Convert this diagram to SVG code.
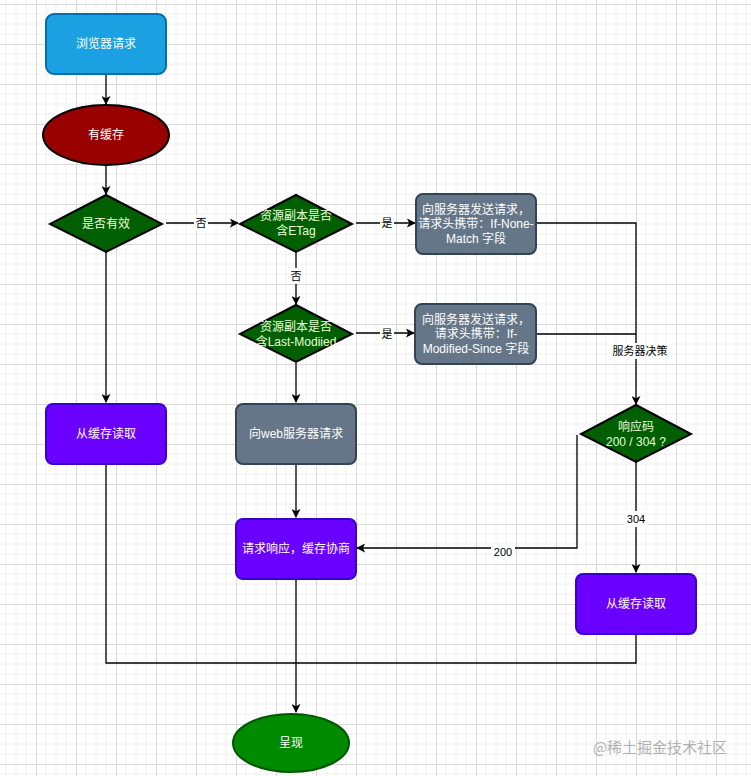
<svg xmlns="http://www.w3.org/2000/svg" width="751" height="776" viewBox="0 0 751 776">
<defs>
<pattern id="grid" x="36" y="4" width="40" height="40" patternUnits="userSpaceOnUse">
<path d="M10 0V40M20 0V40M30 0V40M0 10H40M0 20H40M0 30H40" stroke="#f0f0f0" stroke-width="1" fill="none"/>
<path d="M0.5 0V40M0 0.5H40" stroke="#dadada" stroke-width="1" fill="none"/>
</pattern>
<marker id="arr" viewBox="0 0 10 10" refX="9" refY="5" markerWidth="9" markerHeight="9" markerUnits="userSpaceOnUse" orient="auto">
<path d="M0 0L10 5L0 10L2.5 5Z" fill="#000"/>
</marker>
<style>
.t{font-family:"Liberation Sans","Noto Sans CJK SC",sans-serif;font-size:12px;text-anchor:middle;dominant-baseline:central}
.w{fill:#ffffff}
.g{fill:#e8ffd8}
.lbl{font-family:"Liberation Sans","Noto Sans CJK SC",sans-serif;font-size:11px;text-anchor:middle;dominant-baseline:central;fill:#000}
.bg{fill:#ffffff}
.c{fill:none;stroke:#000;stroke-width:1.3}
.blue{fill:#1ba1e2;stroke:#006eaf;stroke-width:2}
.red{fill:#990000;stroke:#000;stroke-width:2}
.dg{fill:#005f00;stroke:#000;stroke-width:2}
.gray{fill:#647687;stroke:#314354;stroke-width:2}
.pur{fill:#6a00ff;stroke:#3700cc;stroke-width:2}
.gr{fill:#008a00;stroke:#005700;stroke-width:2}
</style>
</defs>
<rect width="751" height="776" fill="#ffffff"/>
<rect width="751" height="776" fill="url(#grid)"/>

<g id="connectors">
<path class="c" d="M106 74V104" marker-end="url(#arr)"/>
<path class="c" d="M106 165V194" marker-end="url(#arr)"/>
<path class="c" d="M166 223H238" marker-end="url(#arr)"/>
<path class="c" d="M296 252V304" marker-end="url(#arr)"/>
<path class="c" d="M356 223H415" marker-end="url(#arr)"/>
<path class="c" d="M356 333H414" marker-end="url(#arr)"/>
<path class="c" d="M536 223H636V404" marker-end="url(#arr)"/>
<path class="c" d="M536 334H636"/>
<path class="c" d="M106 252V402" marker-end="url(#arr)"/>
<path class="c" d="M296 363V402" marker-end="url(#arr)"/>
<path class="c" d="M296 464V517" marker-end="url(#arr)"/>
<path class="c" d="M577 435V548H357" marker-end="url(#arr)"/>
<path class="c" d="M636 462V572" marker-end="url(#arr)"/>
<path class="c" d="M106 464V663H636V634"/>
<path class="c" d="M296 579V712" marker-end="url(#arr)"/>
<rect class="bg" x="194" y="215" width="14" height="16"/>
<text class="lbl" x="201" y="223">否</text>
<rect class="bg" x="289" y="268" width="14" height="16"/>
<text class="lbl" x="296" y="276">否</text>
<rect class="bg" x="380" y="215" width="14" height="16"/>
<text class="lbl" x="387" y="223">是</text>
<rect class="bg" x="380" y="325" width="14" height="16"/>
<text class="lbl" x="387" y="334">是</text>
<rect class="bg" x="608" y="343" width="64" height="16"/>
<text class="lbl" x="640" y="351">服务器决策</text>
<rect class="bg" x="491" y="544" width="24" height="16"/>
<text class="lbl" x="503" y="552">200</text>
<rect class="bg" x="624" y="511" width="24" height="16"/>
<text class="lbl" x="636" y="519">304</text>
</g>

<g id="n1"><rect class="blue" x="46" y="14" width="120" height="60" rx="8"/><text class="t w" x="106" y="44">浏览器请求</text></g>
<g id="n2"><ellipse class="red" cx="106" cy="135" rx="63" ry="30"/><text class="t w" x="106" y="135">有缓存</text></g>
<g id="n3"><polygon class="dg" points="106,195 162,224 106,252 50,224"/><text class="t g" x="106" y="224">是否有效</text></g>
<g id="n4"><polygon class="dg" points="296,195 352,224 296,252 240,224"/><text class="t g" x="296" y="216">资源副本是否</text><text class="t g" x="296" y="231">含ETag</text></g>
<g id="n5"><rect class="gray" x="416" y="194" width="120" height="60" rx="7"/><text class="t w" x="476" y="210">向服务器发送请求，</text><text class="t w" x="476" y="224">请求头携带：If-None-</text><text class="t w" x="476" y="239">Match 字段</text></g>
<g id="n6"><polygon class="dg" points="296,305 352,334 296,362 240,334"/><text class="t g" x="296" y="327">资源副本是否</text><text class="t g" x="296" y="342">含Last-Modiied</text></g>
<g id="n7"><rect class="gray" x="415" y="304" width="121" height="60" rx="7"/><text class="t w" x="476" y="320">向服务器发送请求，</text><text class="t w" x="476" y="334">请求头携带：If-</text><text class="t w" x="476" y="349">Modified-Since 字段</text></g>
<g id="n8"><rect class="pur" x="46" y="404" width="120" height="60" rx="7"/><text class="t w" x="106" y="434">从缓存读取</text></g>
<g id="n9"><rect class="gray" x="236" y="404" width="120" height="60" rx="7"/><text class="t w" x="296" y="434">向web服务器请求</text></g>
<g id="n10"><polygon class="dg" points="636,405 691,434 636,462 581,434"/><text class="t g" x="636" y="427">响应码</text><text class="t g" x="636" y="442">200 / 304 ?</text></g>
<g id="n11"><rect class="pur" x="236" y="519" width="120" height="60" rx="7"/><text class="t w" x="296" y="549">请求响应，缓存协商</text></g>
<g id="n12"><rect class="pur" x="576" y="574" width="120" height="60" rx="7"/><text class="t w" x="636" y="604">从缓存读取</text></g>
<g id="n13"><ellipse class="gr" cx="291" cy="743" rx="58" ry="29"/><text class="t w" x="291" y="743">呈现</text></g>
<text x="660" y="746" style="font-family:'Noto Sans CJK SC',sans-serif;font-size:15px;text-anchor:middle;dominant-baseline:central;fill:#b0b0b0">@稀土掘金技术社区</text>
</svg>
